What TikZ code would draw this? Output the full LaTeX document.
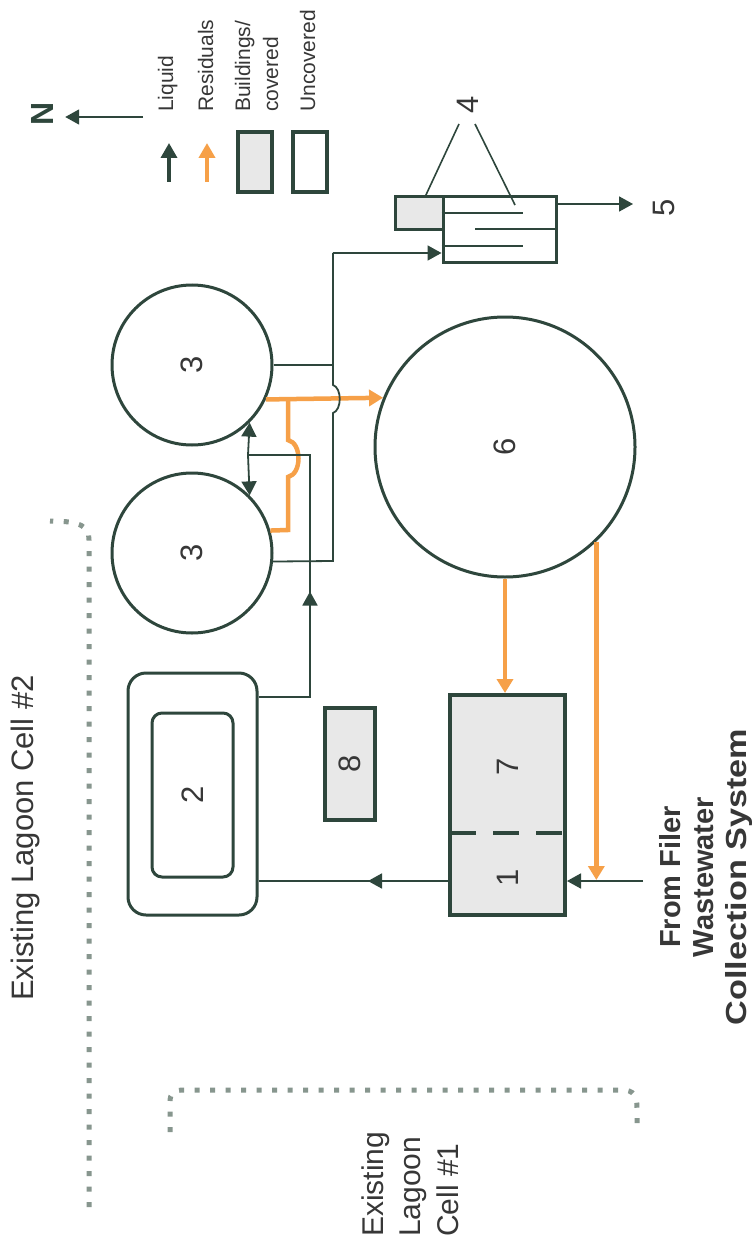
\documentclass[tikz,border=0pt]{standalone}
\usepackage{fontspec}
\setmainfont{Liberation Sans}
\usetikzlibrary{arrows.meta,decorations.markings,calc}
\definecolor{ln}{RGB}{46,70,60}
\definecolor{orng}{RGB}{246,160,72}
\definecolor{fillg}{RGB}{232,232,232}
\definecolor{dotc}{RGB}{135,150,142}
\definecolor{txt}{RGB}{55,55,55}
\begin{document}
\begin{tikzpicture}[x=1pt,y=-1pt,
  liq/.style={color=ln, line width=1.8pt},
  liqarrow/.style={liq, -{Triangle[length=14pt,width=15pt]}},
  res/.style={color=orng, line width=4.5pt},
  resarrow/.style={res, -{Triangle[length=14pt,width=16pt]}},
  midarrow/.style={postaction={decorate}, decoration={markings, mark=at position #1 with {\arrow{Triangle[length=14pt,width=15pt]}}}},
  tank/.style={circle, draw=ln, line width=3pt, inner sep=0pt, text=txt, font=\fontsize{31}{31}\selectfont},
  bldg/.style={rectangle, draw=ln, line width=3.5pt, fill=fillg, inner sep=0pt, text=txt, font=\fontsize{31}{31}\selectfont},
  openbox/.style={rectangle, draw=ln, line width=3pt, fill=white, inner sep=0pt, text=txt, font=\fontsize{31}{31}\selectfont},
  lbl/.style={inner sep=0pt, text=txt, font=\fontsize{31}{31}\selectfont},
  legtxt/.style={rotate=90, anchor=base west, inner sep=0pt, text=txt, font=\fontsize{21}{28}\selectfont},
  lagoon/.style={draw=dotc, line width=5pt, dash pattern=on 5pt off 10.5pt}
]
\useasboundingbox (0,0) rectangle (753,1241);
\fill[white] (0,0) rectangle (753,1241);

% lagoon boundaries
\draw[lagoon] (89,1207) -- (89,540) .. controls (89,527) and (82,521) .. (50,521);
\draw[lagoon] (170,1132) -- (170,1102) .. controls (170,1093) and (174,1090) .. (184,1090) -- (622,1090) .. controls (634,1090) and (637,1096) .. (637,1108) -- (637,1133);

% labels of lagoons and source
\node[rotate=90, anchor=base west, inner sep=0pt, text=txt, font=\fontsize{31}{31}\selectfont] (lag2) at (33,1001) {Existing Lagoon Cell \#2};
\node[rotate=90, anchor=west, align=left, inner sep=0pt, text=txt, font=\fontsize{30}{37.5}\selectfont] (lag1) at (410,1237) {Existing\\Lagoon\\Cell \#1};
\node[rotate=90, align=center, inner sep=0pt, text=txt, font=\bfseries\fontsize{29}{33}\selectfont] (srctxt) at (706,877) {From Filer\\Wastewater\\\scalebox{1.18}[1]{Collection System}};

% legend
\node[inner sep=0pt, text=ln, font=\bfseries\fontsize{32}{32}\selectfont] (nN) at (42,114) {\rotatebox{90}{N}};
\coordinate (na) at (143,117);
\draw[liqarrow] (na) -- ($(na -| nN.east)+(12,0)$);
\coordinate (lq1) at (169,182); \coordinate (lq2) at (169,143);
\draw[liq, line width=3.5pt, -{Triangle[length=15pt,width=16pt]}] (lq1) -- (lq2);
\coordinate (lr1) at (207,182); \coordinate (lr2) at (207,143);
\draw[res, line width=4.5pt, -{Triangle[length=15pt,width=16pt]}] (lr1) -- (lr2);
\node[bldg, minimum width=34pt, minimum height=60pt] (legb) at (255,162) {};
\node[openbox, line width=3.5pt, minimum width=34pt, minimum height=60pt] (legu) at (310,162) {};
\node[legtxt] (tliq) at (173,112) {Liquid};
\node[legtxt] (tres) at (213,112) {Residuals};
\node[legtxt, anchor=west, align=left] (tbld) at (256.5,112) {Buildings/\\covered};
\node[legtxt] (tunc) at (315,112) {Uncovered};

% main units
\node[tank, minimum size=160pt] (c3a) at (192,365) {\rotatebox{90}{3}};
\node[tank, minimum size=160pt] (c3b) at (192,553) {\rotatebox{90}{3}};
\node[tank, minimum size=260pt] (c6) at (505,447) {\rotatebox{90}{6}};
\node[openbox, rounded corners=18pt, minimum width=129pt, minimum height=242pt] (b2o) at (192.5,794) {};
\node[openbox, rounded corners=10pt, minimum width=81pt, minimum height=164pt] (b2i) at (192.5,795) {\rotatebox{90}{2}};
\node[bldg, minimum width=50pt, minimum height=112pt] (b8) at (350,764) {\rotatebox{90}{8}};
\node[bldg, line width=4pt, minimum width=115pt, minimum height=220pt] (b17) at (507.5,805) {};
\node[lbl] (l7) at (508,767) {\rotatebox{90}{7}};
\node[lbl] (l1) at (508,878) {\rotatebox{90}{1}};
\draw[ln, line width=4pt, dash pattern=on 26pt off 17pt] ($(b17.west |- 0,833)+(2,0)$) -- (b17.east |- 0,833);

% unit 4
\node[bldg, line width=3pt, minimum width=48pt, minimum height=33pt] (b4g) at (419,213.5) {};
\node[openbox, minimum width=113pt, minimum height=65pt] (b4w) at (499.5,229.5) {};
\draw[liq] (b4w.west |- 0,213) -- (523,213);
\draw[liq] (475,229) -- (b4w.east |- 0,229);
\draw[liq] (b4w.west |- 0,246) -- (523,246);
\node[lbl] (l4) at (468,105) {\rotatebox{90}{4}};
\coordinate (p4a) at (459,124); \coordinate (q4a) at (425,197);
\coordinate (p4b) at (475,124); \coordinate (q4b) at (515,205);
\draw[liq, line width=1.6pt] (p4a) -- (q4a);
\draw[liq, line width=1.6pt] (p4b) -- (q4b);
\node[lbl] (l5) at (664,208) {\rotatebox{90}{5}};
\coordinate (o5) at (633,204);
\draw[liqarrow] (b4w.east |- o5) -- (o5);

% residual lines
\coordinate (r1) at (288,530); \coordinate (r2) at (288,477);
\coordinate (r3) at (288,440); \coordinate (r4) at (288,399);
\draw[res] (c3b.16.7) -- (r1) -- (r2) .. controls +(14,-3) and +(14,3) .. (r3) -- (r4);
\draw[resarrow] (c3a.-25.2) -- (c6.158.3);
\draw[resarrow] (c6.south) -- (c6.south |- b17.north);
\coordinate (src) at (643,881);
\draw[resarrow] (c6.-46.2) -- ($(c6.-46.2 |- src)+(0,-1)$);

% liquid lines
\coordinate (k1) at (310,697); \coordinate (k2) at (310,455); \coordinate (k3) at (248,455);
\draw[liq, midarrow=157pt] (b2o.east |- k1) -- (k1) -- (k2) -- (k3);
\draw[liqarrow] (k3) -- (c3a.-45.6);
\draw[liqarrow] (k3) -- (c3b.45.6);
\coordinate (v1) at (333,561); \coordinate (h1) at (333,413);
\coordinate (h2) at (333,385); \coordinate (v2) at (333,253);
\draw[liq] (c3b.-6) -- (v1) -- (h1) .. controls +(9,-3) and +(9,3) .. (h2) -- (v2);
\draw[liq] (c3a.east) -- (c3a.east -| v1);
\draw[liqarrow] (v2) -- (b4w.west |- v2);
\draw[liqarrow] (src) -- (b17.east |- src);
\draw[liq, midarrow=80pt] (b17.west |- src) -- (b2o.east |- src);
\end{tikzpicture}
\end{document}
